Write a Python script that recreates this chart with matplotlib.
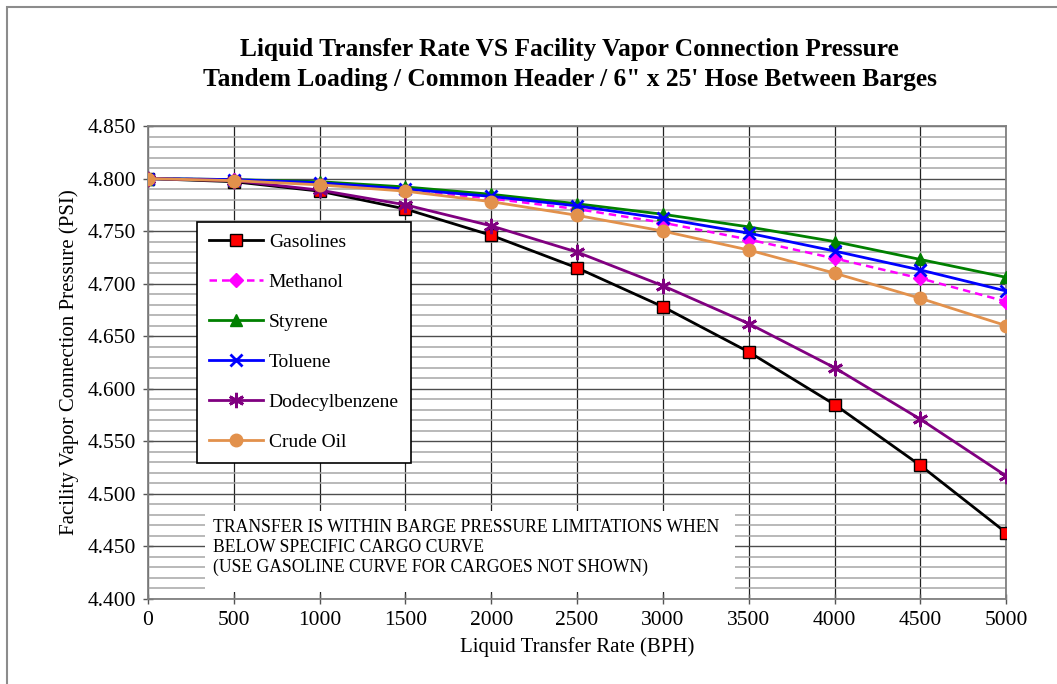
import matplotlib
matplotlib.use("Agg")
import matplotlib.pyplot as plt
from matplotlib.patches import Rectangle
from matplotlib.ticker import MultipleLocator, FormatStrFormatter

# Data
rates = [0, 500, 1000, 1500, 2000, 2500, 3000, 3500, 4000, 4500, 5000]
gasolines = [4.800, 4.797, 4.788, 4.771, 4.746, 4.715, 4.678, 4.635, 4.585, 4.527, 4.463]
methanol = [4.800, 4.799, 4.795, 4.789, 4.781, 4.771, 4.758, 4.742, 4.724, 4.705, 4.683]
styrene = [4.800, 4.799, 4.797, 4.792, 4.785, 4.776, 4.766, 4.754, 4.740, 4.723, 4.706]
toluene = [4.800, 4.799, 4.796, 4.790, 4.783, 4.774, 4.762, 4.748, 4.731, 4.713, 4.693]
dodecyl = [4.800, 4.798, 4.789, 4.775, 4.755, 4.730, 4.698, 4.662, 4.620, 4.571, 4.517]
crude = [4.800, 4.798, 4.794, 4.788, 4.778, 4.765, 4.750, 4.732, 4.710, 4.686, 4.660]

title = ("Liquid Transfer Rate VS Facility Vapor Connection Pressure\n"
         "Tandem Loading / Common Header / 6\" x 25' Hose Between Barges")
note = ("TRANSFER IS WITHIN BARGE PRESSURE LIMITATIONS WHEN\n"
        "BELOW SPECIFIC CARGO CURVE\n"
        "(USE GASOLINE CURVE FOR CARGOES NOT SHOWN)")

plt.rcParams['font.family'] = ['Liberation Serif', 'DejaVu Serif']

fig = plt.figure(figsize=(10.57, 6.84), dpi=100)
ax = fig.add_axes([0.140, 0.1243, 0.812, 0.6915])

# outer chart frame
fig.patches.append(Rectangle((0.0066, -0.02), 1.1, 1.02 - 7 / 684, transform=fig.transFigure,
                             fill=False, edgecolor='#8c8c8c', linewidth=1.5))

ax.plot(rates, gasolines, color='black', lw=2, marker='s', ms=8,
        mfc='#ff0000', mec='black', mew=1, label='Gasolines', zorder=3)
ax.plot(rates, methanol, color='#ff00ff', lw=1.8, ls='--', dashes=(3, 2), marker='D', ms=7,
        mfc='#ff00ff', mec='#ff00ff', label='Methanol', zorder=3)
ax.plot(rates, styrene, color='#008000', lw=2, marker='^', ms=8,
        mfc='#008000', mec='#008000', label='Styrene', zorder=3)
ax.plot(rates, toluene, color='#0000ff', lw=2, marker='x', ms=9, mew=2,
        label='Toluene', zorder=3)
ax.plot(rates, dodecyl, color='#800080', lw=2, marker=(6, 2, 0), ms=11, mew=2,
        mec='#800080', label='Dodecylbenzene', zorder=3)
ax.plot(rates, crude, color='#e2914c', lw=2, marker='o', ms=9,
        mfc='#e2914c', mec='#e2914c', label='Crude Oil', zorder=3)

ax.set_xlim(0, 5000)
ax.set_ylim(4.400, 4.850)
ax.xaxis.set_major_locator(MultipleLocator(500))
ax.yaxis.set_major_locator(MultipleLocator(0.05))
ax.yaxis.set_minor_locator(MultipleLocator(0.01))
ax.yaxis.set_major_formatter(FormatStrFormatter('%.3f'))

ax.set_axisbelow(True)
ax.grid(which='major', axis='y', color='#4d4d4d', lw=1.0)
ax.grid(which='minor', axis='y', color='#a6a6a6', lw=1.1)
ax.grid(which='major', axis='x', color='#222222', lw=0.9)

for s in ax.spines.values():
    s.set_color('#808080')
    s.set_linewidth(1.3)

ax.tick_params(axis='both', which='major', labelsize=15.5, direction='inout', length=7,
               color='#555555', width=1)
ax.tick_params(axis='y', which='minor', length=0)
ax.tick_params(axis='x', pad=5)
ax.tick_params(axis='y', pad=5)

# note box covering the grid
ax.add_patch(Rectangle((0.066, 0.015), 0.618, 0.171, transform=ax.transAxes,
                       facecolor='white', edgecolor='none', zorder=1))
ax.text(0.076, 0.170, note, transform=ax.transAxes, fontsize=12.7, va='top', ha='left',
        linespacing=1.24, zorder=2)

ax.set_xlabel('Liquid Transfer Rate (BPH)', fontsize=15, labelpad=5)
ax.set_ylabel('Facility Vapor Connection Pressure (PSI)', fontsize=15, labelpad=6)
fig.text(0.539, 0.944, title, ha='center', va='top', fontsize=18.3, fontweight='bold',
         linespacing=1.35)

leg = ax.legend(loc='upper left', bbox_to_anchor=(0.057, 0.797), borderaxespad=0,
                fontsize=14, labelspacing=1.15, handlelength=2.8, handletextpad=0.3,
                fancybox=False, framealpha=1, edgecolor='black', borderpad=0.6)
leg.get_frame().set_linewidth(1.2)

fig.savefig('out.png', dpi=100)
